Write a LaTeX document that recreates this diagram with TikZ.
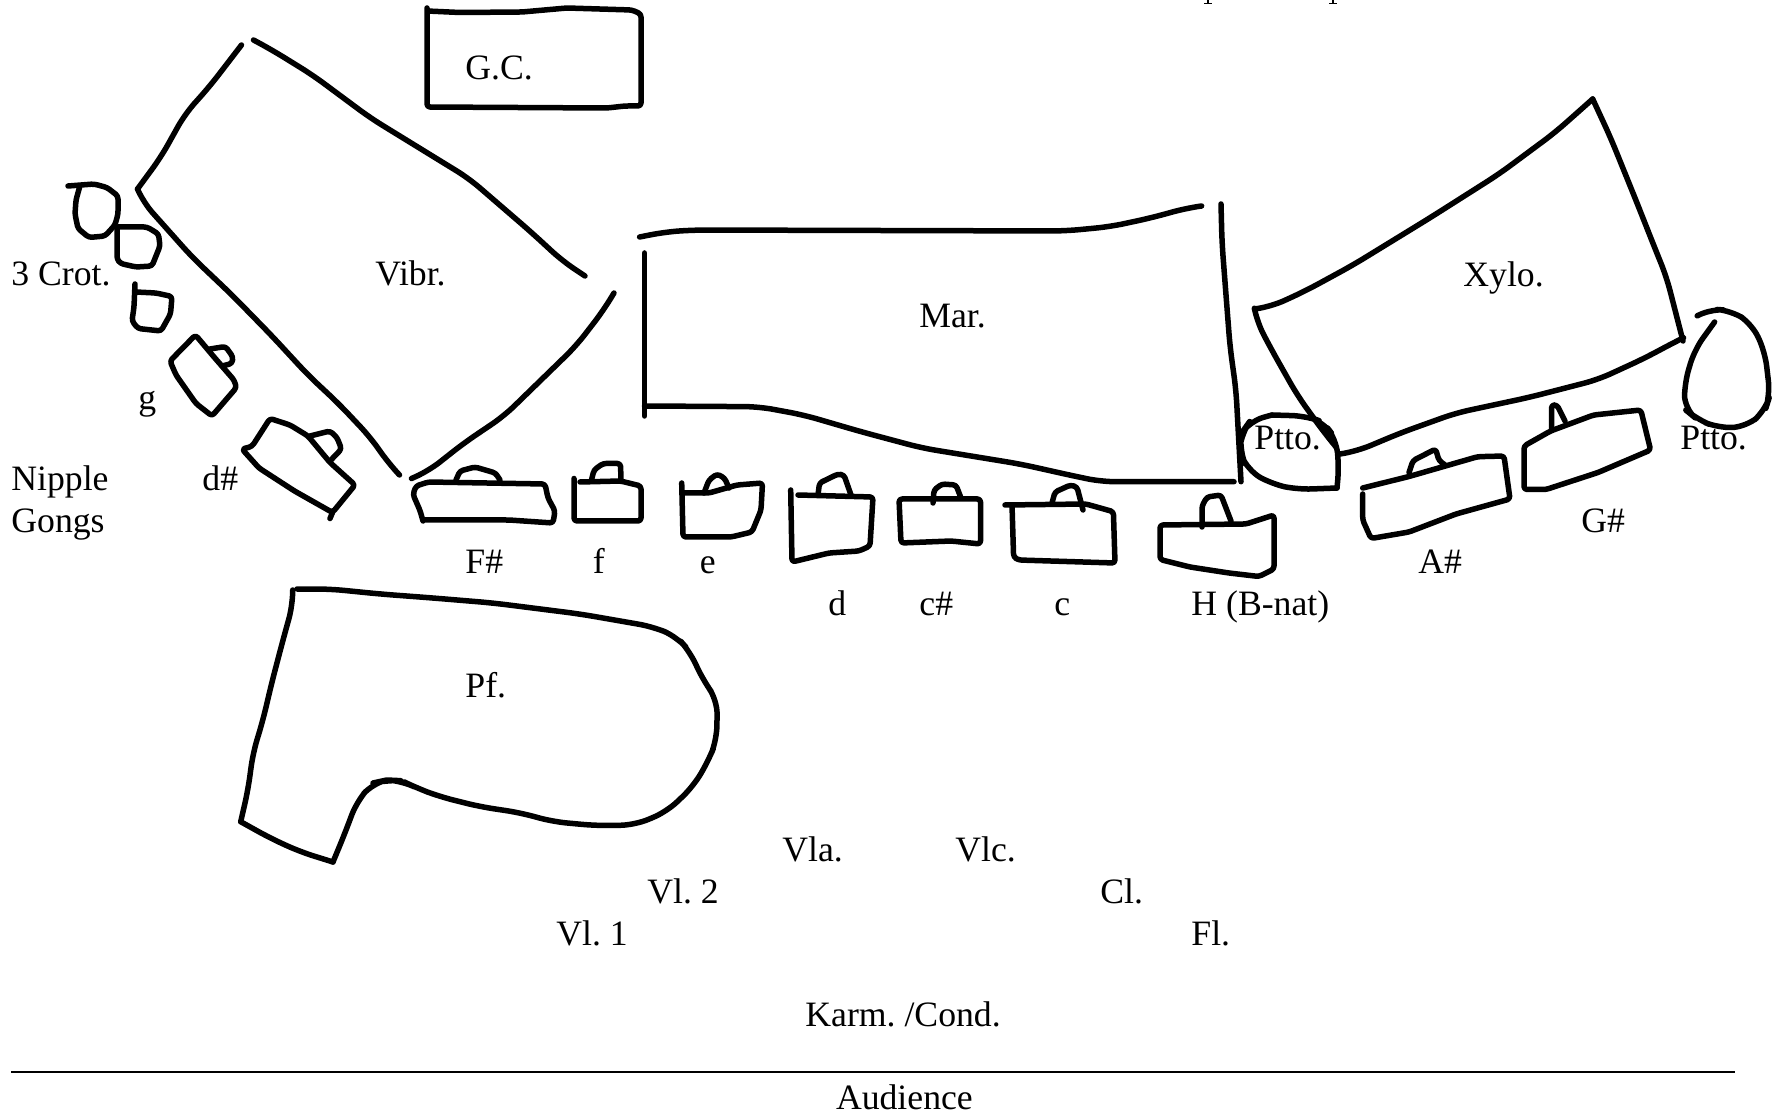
\documentclass[tikz,border=0pt]{standalone}
\usepackage{fontspec}
\setmainfont{Liberation Serif}
\usepackage{xcolor}
\usepackage{tikz}
\frenchspacing
\tikzset{
  ink/.style   = {draw=black, line width=2.75pt, rounded corners=1.5pt, line cap=round, line join=round},
  inklong/.style = {ink, rounded corners=7pt},
  rulefine/.style = {draw=black, line width=1pt},
  lbl/.style   = {anchor=base west, inner sep=0pt, text=black, font=\fontsize{17.85}{20}\selectfont},
}

\begin{document}
\begin{tikzpicture}[x=0.5pt, y=-0.5pt]
  \useasboundingbox (0,0) rectangle (1773,1117);
  % tail ends of a cut-off line at the top edge
  \draw[line width=0.9pt] (1208,0) -- (1208,3) (1204,3.5) -- (1212,3.5);
  \draw[line width=0.9pt] (1333,0) -- (1333,3) (1329,3.5) -- (1337,3.5);
  % large instruments
  \draw[ink] (427,8) -- (427,107) -- (607,108) -- (625,106) -- (641,106) -- (641,14) -- (632,10) -- (567,8) -- (522,12) -- (460,12.5) -- (427,11);
  \draw[inklong] (241.5,45) -- (210,86) -- (185,114) -- (161,157) -- (137.5,189);
  \draw[inklong] (137.5,189) -- (143,202) -- (192,257) -- (232,295) -- (272,336) -- (308,375) -- (339,404) -- (370.5,437.5) -- (388,462.5) -- (399.5,475);
  \draw[inklong] (253.5,40) -- (272,50) -- (312.5,75) -- (370.5,118) -- (469,178.5) -- (531,232) -- (562.5,261) -- (585,276);
  \draw[inklong] (614,293) -- (603,311) -- (576,346) -- (504,416) -- (464,443) -- (428.5,471) -- (411.5,478.5);
  \draw[inklong] (639.6,237) -- (665,232) -- (693.5,230) -- (1065,231) -- (1110,226.7) -- (1150.6,218) -- (1187,208) -- (1201.6,206);
  \draw[ink] (644.5,253) -- (644.5,416);
  \draw[inklong] (644.5,406) -- (759,406.7) -- (803.7,415) -- (861,431.7) -- (922,448) -- (1020,464) -- (1077,476.7) -- (1101.6,481.7) -- (1234,481.7);
  \draw[inklong] (1221,204) -- (1222,243) -- (1230,346.7) -- (1236,390) -- (1241,481.7);
  \draw[inklong] (1340,454) -- (1357.5,451) -- (1400.4,433) -- (1456,413) -- (1529,397.4) -- (1598,379.6) -- (1645,358) -- (1671,344) -- (1681,339);
  \draw[inklong] (1683,341) -- (1666.5,277) -- (1653.6,245) -- (1636.5,201.7) -- (1610.7,138) -- (1592.7,99);
  \draw[inklong] (1592.7,99) -- (1555,132.5) -- (1499,174) -- (1430.5,217.5) -- (1353,265) -- (1306,290.6) -- (1271.7,306.4) -- (1254.5,309);
  \draw[inklong] (1254.5,309) -- (1257,322) -- (1271.7,350) -- (1297.4,395.4) -- (1323,431) -- (1336,447);
  \draw[inklong] (292.7,590) -- (292.7,605) -- (283,640) -- (271.7,683) -- (263,720) -- (253,753) -- (248,790) -- (240.7,821.7);
  \draw[inklong] (240.7,821.7) -- (270,838) -- (300,851.7) -- (333,862);
  \draw[inklong] (333,862) -- (345,833) -- (356.7,801.7) -- (373,783) -- (386.7,780) -- (401.7,780.7) -- (416.7,788) -- (440,796.7) -- (480,806.7) -- (520,812.7) -- (553,821.7) -- (596.7,825.7) -- (635,825) -- (666.7,811.7) -- (693,786.7) -- (708,761.7) -- (716.7,740) -- (717.3,700) -- (703,680) -- (690,651.7) -- (676.7,636.7) -- (653,626.7) -- (580,614) -- (493,603) -- (433,598) -- (380,594) -- (330,589) -- (297,589);
  % crotales
  \draw[ink] (68,186) -- (94,184) -- (107,187.5) -- (118,196) -- (118,214) -- (115,225) -- (105,236) -- (89,237.5) -- (78,228.5) -- (75,214) -- (76,200) -- (79.5,187.5);
  \draw[ink] (117,230) -- (117,259) -- (120.5,263.5) -- (136,267) -- (152,266) -- (160,246) -- (158.5,234) -- (147,227) -- (118,227);
  \draw[ink] (135,284) -- (134,307) -- (132,321) -- (138,328.5) -- (161,331) -- (170.5,314) -- (172,296.5) -- (156,293) -- (136,292);
  % gongs, each with its small handle
  \draw[ink] (195.5,335) -- (170,361) -- (176,375) -- (196,403.5) -- (212,416) -- (236.5,387.5) -- (234,380) -- (214,357) -- cycle;
  \draw[ink] (210,349) -- (225.5,346.5) -- (233,357) -- (232,363.5) -- (222,366);
  \draw[ink] (242,449) -- (252,446.5) -- (270,418.5) -- (290,425) -- (308,436) -- (330,462.5) -- (355,485) -- (332.5,512.5) -- (294.5,491) -- (259,468) -- cycle;
  \draw[ink] (310,436) -- (330,431) -- (337,437.5) -- (341.5,449) -- (330,461);
  \draw[ink] (332.5,512.5) -- (330,518.5);
  \draw[ink] (423,521) -- (420,510.5) -- (413,494.5) -- (416,486) -- (428.5,482) -- (545,484) -- (548,498) -- (555,511) -- (553,523) -- (509,520) -- (423,520);
  \draw[ink] (456,480) -- (460,471) -- (475,467) -- (495.5,473) -- (500,480);
  \draw[ink] (574,478.5) -- (574,521) -- (641,521) -- (641,486) -- (620.5,481) -- (580,482);
  \draw[ink] (591.5,480) -- (594,470) -- (603,463.5) -- (620.5,463.5) -- (621,480);
  \draw[ink] (681.7,483) -- (683,537) -- (731,537) -- (752,532) -- (761,510) -- (762.5,483) -- (737,485) -- (709,493) -- (683,493);
  \draw[ink] (704,493) -- (709,480) -- (717,474) -- (724.5,478) -- (729,488);
  \draw[ink] (790.7,490) -- (792,562) -- (829,553) -- (859,551) -- (870,546) -- (873,497) -- (798,495);
  \draw[ink] (818,495) -- (819.5,483) -- (838,474) -- (844,475) -- (851,495);
  \draw[ink] (899,499) -- (980.5,499) -- (980.5,544) -- (951,541) -- (901,543) -- cycle;
  \draw[ink] (933,503) -- (934,490) -- (942,484) -- (956,485) -- (961,498);
  \draw[ink] (1005,505) -- (1086,504) -- (1113.4,511.7) -- (1115,563) -- (1018.5,560) -- (1013.6,557) -- (1012,505);
  \draw[ink] (1052,503) -- (1055,492) -- (1070.5,485) -- (1077,487) -- (1083,510);
  \draw[ink] (1160,525) -- (1246,524) -- (1274,515) -- (1274,569) -- (1259,576.5) -- (1229,573) -- (1190,567) -- (1160,559.5) -- cycle;
  \draw[ink] (1202,527) -- (1202,506) -- (1207,497) -- (1221,495) -- (1231,521);
  \draw[ink] (1362.7,488) -- (1409,476.5) -- (1477.7,456.7) -- (1504,456) -- (1510,499) -- (1456,514) -- (1409,532) -- (1371,538.5) -- (1362.7,520) -- (1362.7,494);
  \draw[ink] (1409,472.5) -- (1413,460.6) -- (1435.6,449) -- (1439,460.6) -- (1444.6,464.6);
  \draw[ink] (1524,446) -- (1550.6,431) -- (1593.6,415) -- (1640.8,410) -- (1650.6,450) -- (1598,472.5) -- (1546,489.5) -- (1524,489.5) -- cycle;
  \draw[ink] (1551.5,429) -- (1551.5,405) -- (1557,405) -- (1565,421);
  % pedestals of the two Ptto.
  \draw[inklong] (1272,415) -- (1250,421) -- (1241.6,433) -- (1239.5,451) -- (1248,470.5) -- (1271.7,484) -- (1297.4,489.5) -- (1337,488);
  \draw[inklong] (1337,488) -- (1339,466.6) -- (1336,439) -- (1323,422) -- (1306,416) -- (1272,415);
  \draw[inklong] (1698.7,315) -- (1709.4,309) -- (1731,310.4) -- (1752,324) -- (1765,352) -- (1770,395) -- (1765,411) -- (1746,427) -- (1718,428) -- (1696.6,419) -- (1684.5,409) -- (1684.5,383.5) -- (1694.4,350) -- (1714.6,322);
  % audience line
  \coordinate (ruleL) at (11,1072);
  \coordinate (ruleR) at (1735,1072);
  \draw[rulefine] (ruleL) -- (ruleR);
  % labels
  \node[lbl] (gc) at (465,80) {G.C.};
  \node[lbl] (vibr) at (375,286) {Vibr.};
  \node[lbl] (crot) at (11,286) {3 Crot.};
  \node[lbl] (mar) at (919,328) {Mar.};
  \node[lbl] (xylo) at (1463,287) {Xylo.};
  \node[lbl] (pttoL) at (1254,450) {Ptto.};
  \node[lbl] (pttoR) at (1680,450) {Ptto.};
  \node[lbl] (gongg) at (138,410) {g};
  \node[lbl] (nipple) at (11,491) {Nipple};
  \node[lbl] (gongs) at (11,532) {Gongs};
  \node[lbl] (dsharp) at (202,491) {d\#};
  \node[lbl] (gsharp) at (1581,532) {G\#};
  \node[lbl] (fsharp) at (465,574) {F\#};
  \node[lbl] (fnat) at (592.5,574) {f};
  \node[lbl] (enat) at (699.5,574) {e};
  \node[lbl] (asharp) at (1418,574) {A\#};
  \node[lbl] (dnat) at (828,615) {d};
  \node[lbl] (csharp) at (919,615) {c\#};
  \node[lbl] (cnat) at (1054,615) {c};
  \node[lbl] (hnat) at (1191,615) {H (B-nat)};
  \node[lbl] (pf) at (465,697) {Pf.};
  \node[lbl] (vla) at (782,861) {Vla.};
  \node[lbl] (vlc) at (955,861) {Vlc.};
  \node[lbl] (vltwo) at (647,903) {Vl. 2};
  \node[lbl] (cl) at (1100,903) {Cl.};
  \node[lbl] (vlone) at (556,945) {Vl. 1};
  \node[lbl] (fl) at (1191,945) {Fl.};
  \node[lbl] (karm) at (805,1026) {Karm. /Cond.};
  \node[lbl] (aud) at (835.6,1109) {Audience};
\end{tikzpicture}
\end{document}
